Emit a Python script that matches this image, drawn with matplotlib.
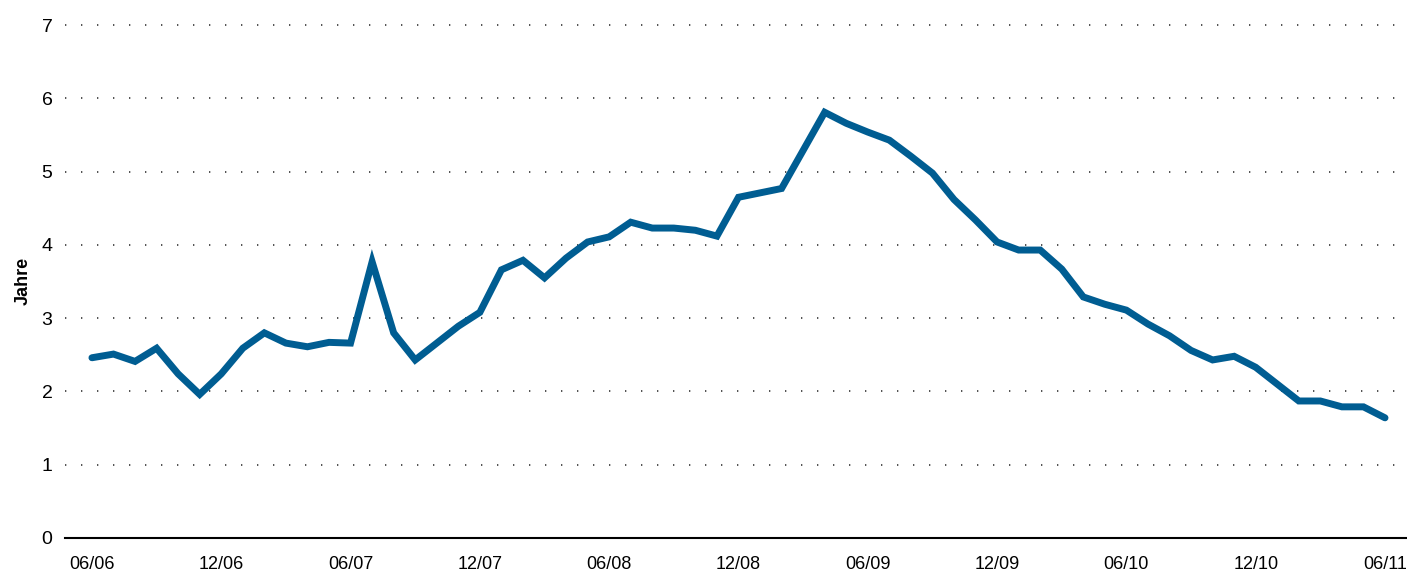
import matplotlib
matplotlib.use("Agg")
import matplotlib.pyplot as plt

# Data (monthly, 06/2006 .. 06/2011)
values = [2.46, 2.51, 2.41, 2.59, 2.24, 1.96, 2.24, 2.59, 2.80, 2.66,
          2.61, 2.67, 2.66, 3.77, 2.80, 2.43, 2.66, 2.89, 3.08, 3.66,
          3.79, 3.55, 3.82, 4.04, 4.11, 4.31, 4.23, 4.23, 4.20, 4.12,
          4.65, 4.71, 4.77, 5.29, 5.81, 5.66, 5.54, 5.43, 5.21, 4.98,
          4.62, 4.34, 4.04, 3.93, 3.93, 3.67, 3.29, 3.19, 3.11, 2.92,
          2.76, 2.56, 2.43, 2.48, 2.33, 2.10, 1.87, 1.87, 1.79, 1.79,
          1.64]
tick_positions = [0, 6, 12, 18, 24, 30, 36, 42, 48, 54, 60]
tick_labels = ["06/06", "12/06", "06/07", "12/07", "06/08", "12/08",
               "06/09", "12/09", "06/10", "12/10", "06/11"]
y_ticks = [0, 1, 2, 3, 4, 5, 6, 7]
y_label = "Jahre"

plt.rcParams['font.family'] = ["Liberation Sans", "DejaVu Sans"]

fig = plt.figure(figsize=(14.07, 5.76), dpi=100)
ax = fig.add_axes([65/1407, 1 - 538/576, (1407-65)/1407, (538-24)/576])

x = list(range(len(values)))
ax.plot(x, values, color="#005d92", linewidth=5, solid_capstyle="round",
        solid_joinstyle="miter", zorder=3)

ax.set_xlim(-1.25, 61.02)
ax.set_ylim(0, 7.015)
ax.set_yticks(y_ticks)
ax.set_yticklabels([str(v) for v in y_ticks], fontsize=14)
ax.set_xticks(tick_positions)
ax.set_xticklabels(tick_labels, fontsize=13)
ax.tick_params(axis="both", length=0)
ax.tick_params(axis="y", pad=9)
ax.tick_params(axis="x", pad=13)

for v in y_ticks[1:]:
    ax.axhline(v, xmax=(1398-65)/(1407-65), color="#333333", linewidth=1.2,
               linestyle=(0, (0.8, 8.8)), zorder=1)

for s in ["top", "right", "left"]:
    ax.spines[s].set_visible(False)
ax.spines["bottom"].set_linewidth(1.5)
ax.spines["bottom"].set_color("black")

ax.set_ylabel(y_label, fontsize=13, fontweight="bold", labelpad=7)

fig.savefig("out.png", dpi=100, facecolor="white")
